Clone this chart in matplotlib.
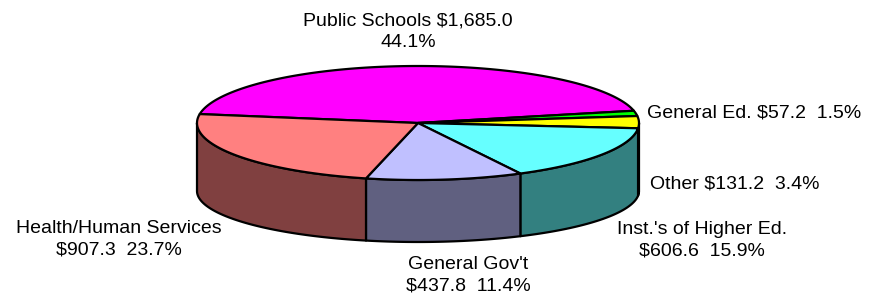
import numpy as np
import matplotlib
matplotlib.use("Agg")
import matplotlib.pyplot as plt
from matplotlib.patches import Polygon

plt.rcParams["font.family"] = ["Liberation Sans", "DejaVu Sans"]

# slices in clockwise screen order, starting at the left edge of the top face
categories = ["Public Schools", "General Ed.", "Other", "Inst.'s of Higher Ed.",
              "General Gov't", "Health/Human Services"]
values = [1685.0, 57.2, 131.2, 606.6, 437.8, 907.3]
top_colors = ["#FF00FF", "#00FF00", "#FFFF00", "#66FFFF", "#C0C0FF", "#FF8080"]
side_colors = ["#800080", "#008000", "#808000", "#338080", "#606080", "#804040"]
labels = ["Public Schools $1,685.0\n44.1%", "General Ed. $57.2  1.5%",
          "Other $131.2  3.4%", "Inst.'s of Higher Ed.\n$606.6  15.9%",
          "General Gov't\n$437.8  11.4%", "Health/Human Services\n$907.3  23.7%"]

# geometry of the pseudo-3D pie, in pixel units
cx, cy, rx, ry = 418, 123, 221, 57
cy_bot, ry_bot = 191, 51
start = 171.0


def top_pt(a):
    r = np.radians(a)
    return cx + rx * np.cos(r), cy - ry * np.sin(r)


def bot_pt(a):
    r = np.radians(a)
    return cx + rx * np.cos(r), cy_bot - ry_bot * np.sin(r)


fig = plt.figure(figsize=(8.79, 2.99), dpi=100)
ax = fig.add_axes([0, 0, 1, 1])
ax.set_xlim(0, 879)
ax.set_ylim(299, 0)
ax.axis("off")

total = sum(values)
angles = []
a = start
for v in values:
    span = 360.0 * v / total
    angles.append((a - span, a))  # clockwise on screen = decreasing math angle
    a -= span

# side walls (front half only: 180..360 math degrees)
for (a1, a2), col in zip(angles, side_colors):
    a1n = a1 % 360
    a2n = a1n + (a2 - a1)
    for lo_lim, hi_lim in [(180, 360), (540, 720), (-180, 0)]:
        lo, hi = max(a1n, lo_lim), min(a2n, hi_lim)
        if hi <= lo:
            continue
        t = np.linspace(lo, hi, 60)
        pts = [top_pt(x) for x in t] + [bot_pt(x) for x in t[::-1]]
        ax.add_patch(Polygon(pts, closed=True, facecolor=col, edgecolor="black",
                             lw=1.6, joinstyle="round", zorder=2))

# top face wedges
for (a1, a2), col in zip(angles, top_colors):
    t = np.linspace(a1, a2, max(int(abs(a2 - a1)) * 2, 8))
    pts = [(cx, cy)] + [top_pt(x) for x in t]
    ax.add_patch(Polygon(pts, closed=True, facecolor=col, edgecolor="black",
                         lw=1.6, joinstyle="round", zorder=3))

fs = 14
ls = 1.35
ax.text(408, 32, labels[0], ha="center", va="center", fontsize=fs,
        linespacing=ls, zorder=1)
ax.text(647, 113, labels[1], ha="left", va="center", fontsize=fs, zorder=1)
ax.text(650, 184, labels[2], ha="left", va="center", fontsize=fs, zorder=1)
ax.text(702, 240, labels[3], ha="center", va="center", fontsize=fs,
        linespacing=ls, zorder=1)
ax.text(468, 275, labels[4], ha="center", va="center", fontsize=fs,
        linespacing=ls, zorder=1)
ax.text(119, 239, labels[5], ha="center", va="center", fontsize=fs,
        linespacing=ls, zorder=1)

fig.savefig("out.png", dpi=100)
